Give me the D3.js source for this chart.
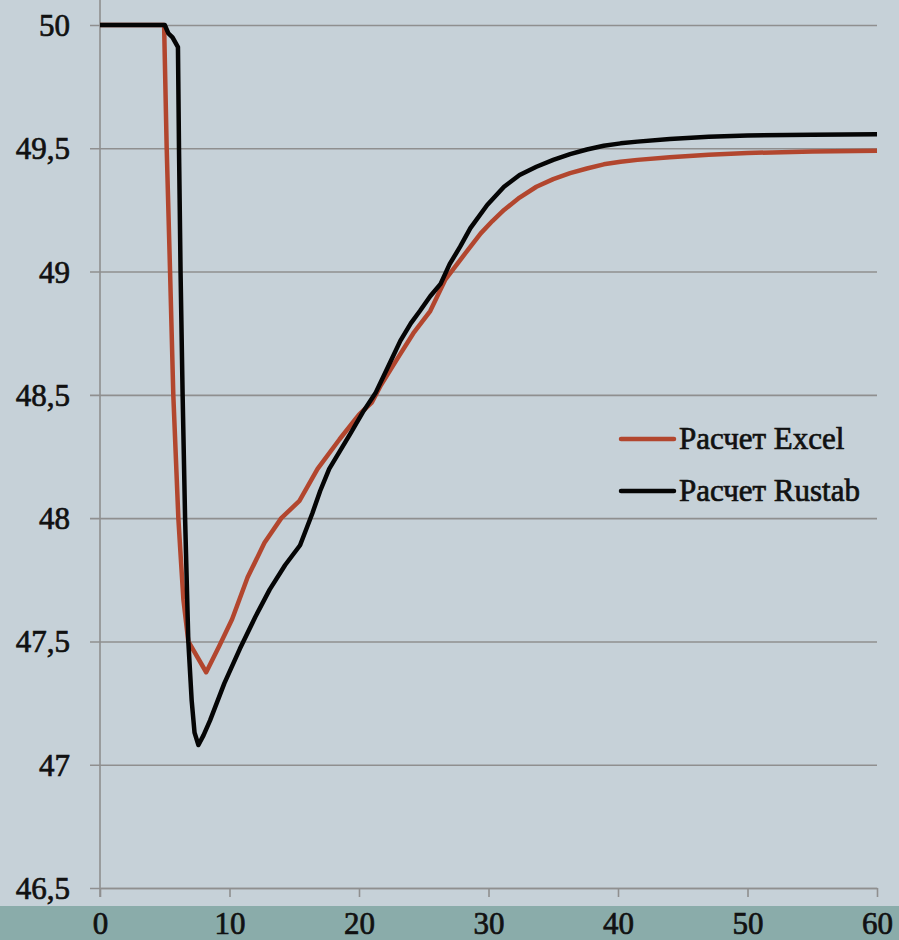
<!DOCTYPE html>
<html>
<head>
<meta charset="utf-8">
<script src="https://cdn.jsdelivr.net/npm/d3@7"></script>
<style>
  html, body { margin: 0; padding: 0; background: #c6d1d8; }
  svg { display: block; }
  text { font-family: "Liberation Serif", "DejaVu Serif", serif; fill: #111; stroke: #111; stroke-width: 0.7px; }
</style>
</head>
<body>
<svg id="chart" width="899" height="940"></svg>
<script>
// Frequency response, Hz, versus time, s
const excelT = [0, 4.95, 5.15, 5.41, 5.66, 6.05, 6.2, 6.44, 6.82, 8.2, 9.2, 10.2, 11.4, 12.7, 14.0, 15.4, 16.8, 18.5, 20.0, 21.0, 21.7, 23.0, 24.2, 25.5, 26.65, 28.0, 29.4, 30.3, 31.2, 32.4, 33.7, 35.0, 36.3, 37.6, 38.9, 40.2, 41.5, 44.0, 47.0, 50.0, 55.0, 60.0];
const excelF = [50, 50, 49.5, 49.0, 48.5, 48.0, 47.87, 47.67, 47.5, 47.375, 47.48, 47.59, 47.76, 47.9, 48.0, 48.07, 48.2, 48.32, 48.42, 48.47, 48.54, 48.65, 48.75, 48.84, 48.966, 49.06, 49.155, 49.205, 49.25, 49.30, 49.344, 49.375, 49.399, 49.418, 49.435, 49.445, 49.453, 49.464, 49.474, 49.481, 49.487, 49.49];

const rustabT = [0, 5.0, 5.28, 5.6, 6.02, 6.1, 6.22, 6.38, 6.57, 6.82, 7.08, 7.3, 7.6, 8.0, 8.5, 9.6, 10.8, 12.0, 13.1, 14.3, 15.45, 16.4, 17.0, 17.7, 18.5, 19.3, 20.3, 21.3, 22.3, 23.2, 24.0, 24.7, 25.5, 26.3, 27.0, 27.8, 28.6, 29.9, 31.2, 32.4, 33.7, 35.0, 36.3, 37.6, 38.9, 40.2, 41.5, 44.0, 47.0, 50.0, 55.0, 60.0];
const rustabF = [50, 50, 49.966, 49.95, 49.91, 49.5, 49.0, 48.5, 48.0, 47.5, 47.26, 47.13, 47.08, 47.12, 47.18, 47.33, 47.47, 47.6, 47.71, 47.81, 47.89, 48.02, 48.11, 48.2, 48.27, 48.34, 48.43, 48.51, 48.62, 48.72, 48.79, 48.84, 48.9, 48.95, 49.03, 49.10, 49.176, 49.27, 49.344, 49.392, 49.425, 49.453, 49.476, 49.495, 49.51, 49.52, 49.527, 49.538, 49.547, 49.552, 49.555, 49.557];

const xTicks = [0, 10, 20, 30, 40, 50, 60];
const yTicks = [46.5, 47, 47.5, 48, 48.5, 49, 49.5, 50];
const yTickLabels = ["46,5", "47", "47,5", "48", "48,5", "49", "49,5", "50"];

const seriesNames = ["Расчет Excel", "Расчет Rustab"];
const seriesColors = ["#b2462e", "#050505"];

const svg = d3.select("#chart");
const W = 899, H = 940;
const gridColor = "#8f8f8f";
const fontSize = "31px";

const x = d3.scaleLinear().domain([0, 60]).range([100, 877]);
const y = d3.scaleLinear().domain([46.5, 50]).range([888, 25]);

// lower band behind the time labels
svg.append("rect").attr("x", 0).attr("y", 906).attr("width", W).attr("height", H - 906).attr("fill", "#8aacaa");

// horizontal grid with outward ticks on the left
const yAxis = d3.axisLeft(y).tickValues(yTicks)
  .tickSize(-(x(60) - x(0)))
  .tickFormat((d, i) => yTickLabels[i]);
const gy = svg.append("g").attr("transform", `translate(${x(0)},0)`).call(yAxis);
gy.select(".domain").remove();
gy.selectAll(".tick line").attr("x1", -10).attr("stroke", gridColor).attr("stroke-width", 1.6);
gy.selectAll(".tick text").attr("x", -30).attr("dy", "0.34em")
  .style("font-size", fontSize).style("font-family", "Liberation Serif, serif").attr("fill", "#111");

// vertical axis line
svg.append("line").attr("x1", x(0)).attr("x2", x(0)).attr("y1", 0).attr("y2", 897)
  .attr("stroke", gridColor).attr("stroke-width", 1.6);

// time axis
const xAxis = d3.axisBottom(x).tickValues(xTicks).tickSize(9).tickSizeOuter(0).tickFormat(d3.format("d"));
const gx = svg.append("g").attr("transform", `translate(0,${y(46.5)})`).call(xAxis);
gx.select(".domain").attr("stroke", gridColor).attr("stroke-width", 1.6);
gx.selectAll(".tick line").attr("stroke", gridColor).attr("stroke-width", 1.6);
gx.selectAll(".tick text").attr("y", 46).attr("dy", 0)
  .style("font-size", fontSize).style("font-family", "Liberation Serif, serif").attr("fill", "#111");

const line = d3.line().x(d => x(d[0])).y(d => y(d[1])).curve(d3.curveLinear);

const series = [
  d3.zip(excelT, excelF),
  d3.zip(rustabT, rustabF)
];

series.forEach((pts, i) => {
  svg.append("path").datum(pts)
    .attr("fill", "none")
    .attr("stroke", seriesColors[i])
    .attr("stroke-width", 4.5)
    .attr("stroke-linejoin", "round")
    .attr("d", line);
});

// legend
const legend = svg.append("g");
seriesNames.forEach((name, i) => {
  const ly = 439 + i * 52;
  legend.append("line").attr("x1", 621).attr("x2", 674).attr("y1", ly).attr("y2", ly)
    .attr("stroke", seriesColors[i]).attr("stroke-width", 4.5).attr("stroke-linecap", "round");
  legend.append("text").attr("x", 679).attr("y", ly + 10)
    .style("font-size", fontSize).text(name);
});
</script>
</body>
</html>
